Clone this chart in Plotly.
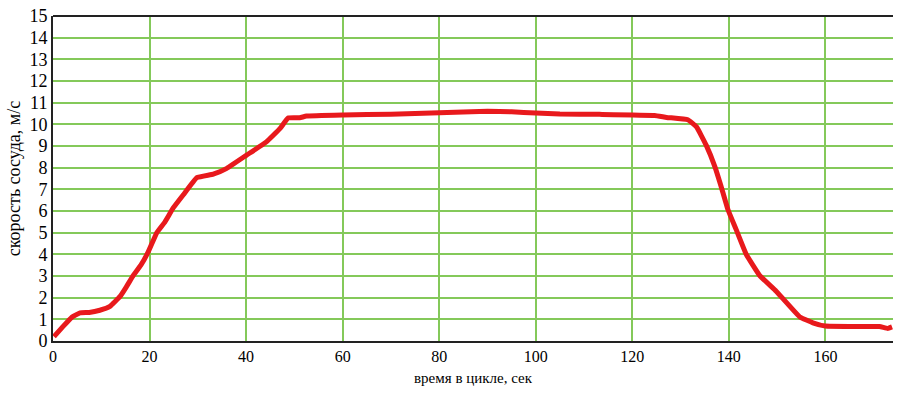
import plotly.graph_objects as go

# time in cycle, s
t = [0.2, 2.0, 3.9, 5.6, 7.5, 9.7, 11.8, 13.9, 15.2, 16.6, 18.2, 19.7, 21.5, 23.2,
     24.9, 27.0, 29.8, 33.2, 36.0, 40.1, 44.2, 47.0, 48.7, 51.1, 52.5, 60.1,
     70.0, 80.0, 90.0, 95.0, 100.0, 105.0, 113.2, 124.6, 127.1, 131.5, 133.3,
     135.3, 137.1, 138.4, 139.8, 141.5, 143.6, 146.4, 149.8, 154.7, 157.4,
     160.0, 165.0, 171.2, 172.9, 173.8]
# vessel speed, m/s
v = [0.2, 0.65, 1.1, 1.3, 1.32, 1.42, 1.6, 2.06, 2.5, 3.02, 3.5, 4.1, 5.0, 5.5,
     6.14, 6.75, 7.54, 7.7, 7.97, 8.58, 9.19, 9.8, 10.29, 10.3, 10.38, 10.43,
     10.47, 10.53, 10.6, 10.58, 10.52, 10.48, 10.46, 10.41, 10.32, 10.21, 9.88,
     9.04, 8.05, 7.13, 6.07, 5.15, 4.0, 3.02, 2.3, 1.11, 0.84,
     0.69, 0.67, 0.67, 0.58, 0.65]

x_ticks = [0, 20, 40, 60, 80, 100, 120, 140, 160]
y_ticks = list(range(0, 16))

fig = go.Figure()
fig.add_trace(go.Scatter(
    x=t, y=v, mode="lines",
    line=dict(color="#e8191c", width=5, shape="spline", smoothing=0.3),
    showlegend=False, hoverinfo="skip",
))

grid_color = "#84c95a"
fig.update_layout(
    width=899, height=398,
    margin=dict(l=53, r=6, t=13, b=57),
    paper_bgcolor="white", plot_bgcolor="white",
    font=dict(family="Liberation Serif", color="black"),
    xaxis=dict(
        range=[0, 174], tickvals=x_ticks, ticktext=[str(k) for k in x_ticks],
        showgrid=True, gridcolor=grid_color, gridwidth=2,
        zeroline=False, showline=True, linecolor="#222", linewidth=2,
        ticks="", tickfont=dict(size=16, family="Liberation Serif"),
        title=dict(text="время в цикле, сек", font=dict(size=15, family="Liberation Serif"), standoff=8),
    ),
    yaxis=dict(
        range=[0, 15], tickvals=y_ticks, ticktext=[str(k) for k in y_ticks],
        showgrid=True, gridcolor=grid_color, gridwidth=2,
        zeroline=False, showline=True, linecolor="#222", linewidth=2,
        ticks="", tickfont=dict(size=18, family="Liberation Serif"),
        title=dict(text="скорость сосуда, м/с", font=dict(size=18, family="Liberation Serif"), standoff=4),
    ),
    shapes=[dict(type="line", xref="paper", yref="paper", x0=0, x1=1, y0=1, y1=1,
                 line=dict(color="#222", width=2))],
)

fig.write_html("out.html")
